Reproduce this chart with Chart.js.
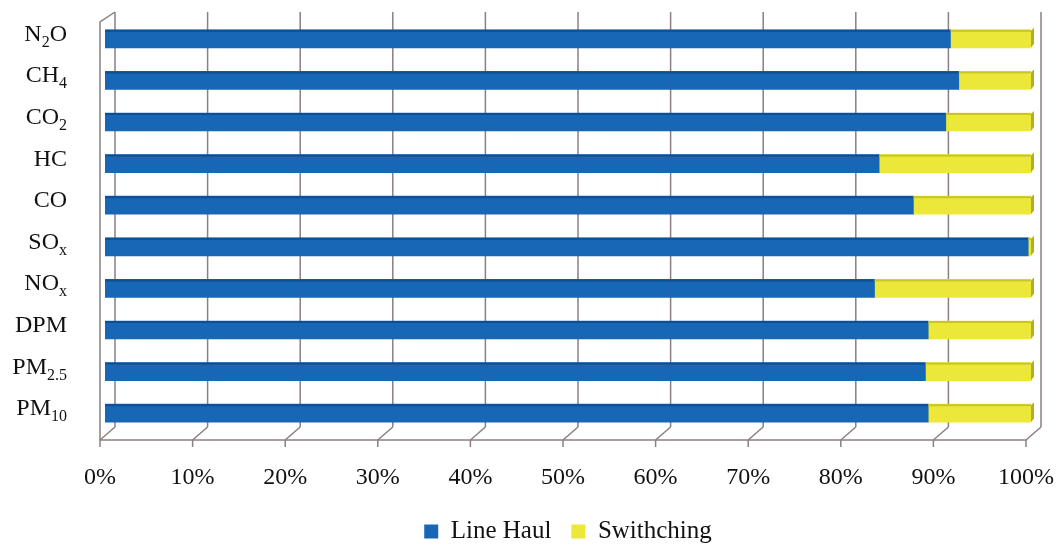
<!DOCTYPE html>
<html>
<head>
<meta charset="utf-8">
<script src="https://cdn.jsdelivr.net/npm/chart.js@4/dist/chart.umd.min.js"></script>
<style>
  html, body { margin: 0; padding: 0; background: #ffffff; }
  #wrap { width: 1061px; height: 548px; position: relative; }
</style>
</head>
<body>
<div id="wrap"><canvas id="chart"></canvas></div>
<script>
// Pollutant categories; "_{...}" marks a subscript
const categories = ['N_{2}O', 'CH_{4}', 'CO_{2}', 'HC', 'CO', 'SO_{x}', 'NO_{x}', 'DPM', 'PM_{2.5}', 'PM_{10}'];
// Share of emissions (%)
const lineHaul  = [91.3, 92.2, 90.8, 83.6, 87.3, 99.7, 83.1, 88.9, 88.6, 88.9];
const switching = [8.7, 7.8, 9.2, 16.4, 12.7, 0.3, 16.9, 11.1, 11.4, 11.1];
const xTicks = [0, 10, 20, 30, 40, 50, 60, 70, 80, 90, 100];
const seriesNames = ['Line Haul', 'Swithching'];

const FONT = "'Liberation Serif', 'Times New Roman', serif";
const BLUE = '#1767b6';
const YELLOW = '#ece83a';
const FRAME = '#8b7f7f';

// split "N_{2}O" into [{t:'N'},{t:'2',sub:true},{t:'O'}]
function parseLabel(s) {
  const parts = [];
  const re = /_\{([^}]*)\}/g;
  let last = 0, m;
  while ((m = re.exec(s)) !== null) {
    if (m.index > last) parts.push({ t: s.slice(last, m.index) });
    parts.push({ t: m[1], sub: true });
    last = re.lastIndex;
  }
  if (last < s.length) parts.push({ t: s.slice(last) });
  return parts;
}

// 3D-style walls and floor drawn behind the bars
const frame3d = {
  id: 'frame3d',
  beforeDatasetsDraw(chart) {
    const { ctx, chartArea } = chart;
    const xs = chart.scales.x;
    const backTop = chartArea.top - 6, backBottom = chartArea.bottom - 7;
    const frontBottom = chartArea.bottom + 6;
    const dFront = -5, dBack = 10;
    ctx.save();
    ctx.strokeStyle = FRAME;
    ctx.lineWidth = 1.5;
    xTicks.forEach(v => {
      const x = xs.getPixelForValue(v) + dBack;
      // back wall gridline
      ctx.beginPath();
      ctx.moveTo(x, backTop);
      ctx.lineTo(x, backBottom);
      ctx.stroke();
      // floor diagonal
      const xf = xs.getPixelForValue(v) + dFront;
      ctx.beginPath();
      ctx.moveTo(x, backBottom);
      ctx.lineTo(xf, frontBottom);
      ctx.stroke();
      // tick mark below the floor edge
      ctx.beginPath();
      ctx.moveTo(xf, frontBottom);
      ctx.lineTo(xf, frontBottom + 7);
      ctx.stroke();
    });
    // front floor edge
    const x0f = xs.getPixelForValue(0) + dFront;
    const x1f = xs.getPixelForValue(100) + dFront;
    ctx.beginPath();
    ctx.moveTo(x0f, frontBottom);
    ctx.lineTo(x1f, frontBottom);
    ctx.stroke();
    // left side wall front edge and top
    const x0b = xs.getPixelForValue(0) + dBack;
    ctx.beginPath();
    ctx.moveTo(x0f, frontBottom);
    ctx.lineTo(x0f, backTop + 10);
    ctx.lineTo(x0b, backTop);
    ctx.stroke();
    ctx.restore();
  },
  afterDatasetsDraw(chart) {
    const { ctx } = chart;
    ctx.save();
    // darker top edge on each bar and a shaded end cap on the last segment
    chart.data.datasets.forEach((ds, di) => {
      const meta = chart.getDatasetMeta(di);
      meta.data.forEach((bar) => {
        const p = bar.getProps(['x', 'y', 'base', 'height'], true);
        const top = p.y - p.height / 2;
        const left = Math.min(p.x, p.base), right = Math.max(p.x, p.base);
        ctx.fillStyle = di === 0 ? '#0e4f94' : '#c9c42a';
        ctx.fillRect(left, top, right - left, 2);
        if (di === chart.data.datasets.length - 1) {
          ctx.fillStyle = '#b3ae22';
          ctx.beginPath();
          ctx.moveTo(right, top + 1);
          ctx.lineTo(right + 3, top - 2);
          ctx.lineTo(right + 3, top + p.height - 4);
          ctx.lineTo(right, top + p.height);
          ctx.closePath();
          ctx.fill();
        }
      });
    });
    ctx.restore();
  },
  afterDraw(chart) {
    // category labels with subscripts
    const { ctx } = chart;
    const ys = chart.scales.y;
    ctx.save();
    ctx.fillStyle = '#111111';
    ctx.textBaseline = 'alphabetic';
    ctx.textAlign = 'left';
    const rightEdge = 67;
    categories.forEach((c, i) => {
      const parts = parseLabel(c);
      const base = ys.getPixelForValue(i) + 2;
      let w = 0;
      parts.forEach(p => {
        ctx.font = (p.sub ? '16px ' : '24px ') + FONT;
        w += ctx.measureText(p.t).width;
      });
      let x = rightEdge - w;
      parts.forEach(p => {
        ctx.font = (p.sub ? '16px ' : '24px ') + FONT;
        ctx.fillText(p.t, x, base + (p.sub ? 6 : 0));
        x += ctx.measureText(p.t).width;
      });
    });
    ctx.restore();
  }
};

new Chart(document.getElementById('chart'), {
  type: 'bar',
  data: {
    labels: categories,
    datasets: [
      { label: seriesNames[0], data: lineHaul, backgroundColor: BLUE, barThickness: 18 },
      { label: seriesNames[1], data: switching, backgroundColor: YELLOW, barThickness: 18 }
    ]
  },
  options: {
    indexAxis: 'y',
    responsive: true,
    maintainAspectRatio: false,
    animation: false,
    layout: { autoPadding: false, padding: { left: 105, right: 30, top: 18, bottom: -6 } },
    scales: {
      x: {
        stacked: true,
        min: 0,
        max: 100,
        afterBuildTicks(scale) { scale.ticks = xTicks.map(v => ({ value: v })); },
        grid: { display: false, drawTicks: false },
        border: { display: false },
        ticks: {
          callback: v => v + '%',
          color: '#111111',
          font: { family: FONT, size: 24 },
          padding: 29,
          labelOffset: -5,
          maxRotation: 0,
          autoSkip: false
        },
        afterFit(scale) {
          scale.height = 65;
          scale.paddingLeft = 0;
          scale.paddingRight = 0;
        }
      },
      y: {
        stacked: true,
        display: false
      }
    },
    plugins: {
      legend: {
        position: 'bottom',
        labels: {
          color: '#111111',
          font: { family: FONT, size: 25 },
          boxWidth: 14,
          boxHeight: 14,
          padding: 20
        }
      },
      tooltip: { enabled: false }
    }
  },
  plugins: [frame3d]
});
</script>
</body>
</html>
